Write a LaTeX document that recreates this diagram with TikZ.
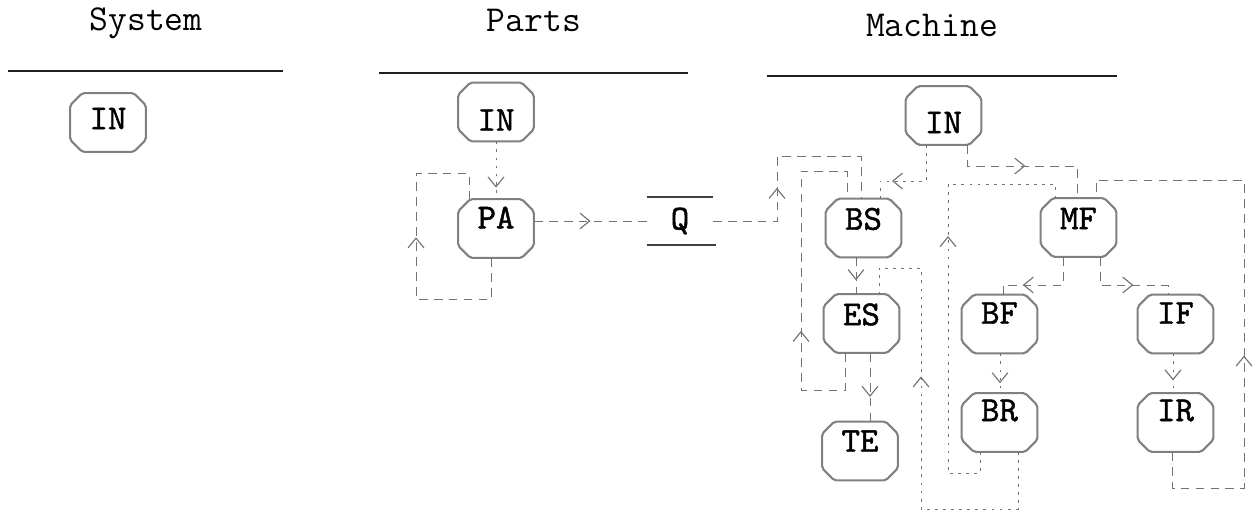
\documentclass[tikz,border=0pt]{standalone}
\usepackage{fontspec}
\newfontfamily\boxfont{lmmono10-regular.otf}[FakeBold=1.3]
\usetikzlibrary{decorations.markings, arrows.meta}

\definecolor{wire}{gray}{0.45}
\definecolor{boxedge}{gray}{0.5}
\definecolor{rule}{gray}{0.12}

\tikzset{
  octspace/.style={rectangle, inner sep=0pt, minimum width=1.5cm, minimum height=1.16cm},
  octline/.style={draw=boxedge, line width=1.2pt, rounded corners=1.2pt},
  octlabel/.style={inner sep=0pt, font=\boxfont\fontsize{20pt}{22pt}\selectfont},
  heading/.style={anchor=base, inner sep=0pt, font=\ttfamily\fontsize{20.8pt}{22pt}\selectfont},
  headrule/.style={draw=rule, line width=1.1pt},
  storebox/.style={rectangle, inner sep=0pt, minimum width=1.3cm, minimum height=0.94cm,
    font=\boxfont\fontsize{20pt}{22pt}\selectfont},
  storeline/.style={draw=rule!85, line width=1pt},
  flow/.style={draw=wire, line width=0.55pt, dash pattern=on 5pt off 3.5pt},
  dotflow/.style={draw=wire, line width=0.55pt, dash pattern=on 1.6pt off 3pt},
  chev/.style={color=wire, line width=0.65pt, postaction={decorate},
    decoration={markings, mark=at position #1 with {\arrow{Straight Barb[length=5.5pt,width=9pt]}}}},
}

% octagonal process box: name, x, y, label, label offset (down, in picture units)
\newcommand\octnode[5]{%
  \node[octspace] (#1) at (#2,#3) {};
  \draw[octline] ([xshift=0.24cm]#1.north west) -- ([xshift=-0.24cm]#1.north east)
    -- ([yshift=-0.24cm]#1.north east) -- ([yshift=0.24cm]#1.south east)
    -- ([xshift=-0.24cm]#1.south east) -- ([xshift=0.24cm]#1.south west)
    -- ([yshift=0.24cm]#1.south west) -- ([yshift=-0.24cm]#1.north west) -- cycle;
  \node[octlabel] (#1-label) at ([yshift={-0.02cm*(#5)}]#1.center) {#4};
}

\begin{document}
\begin{tikzpicture}[x=0.02cm, y=-0.02cm]
\useasboundingbox (0,0) rectangle (1253,511);

% column headings
\node[heading] (tSystem) at (146,30) {System};
\node[heading] (tParts) at (534,31) {Parts};
\node[heading] (tMachine) at (932,36) {Machine};
\draw[headrule] (8,71) -- (283,71);
\draw[headrule] (379,73) -- (688,73);
\draw[headrule] (767,76) -- (1117,76);

% boxes
\octnode{sysIN}{108}{122.5}{IN}{-4}
\octnode{pIN}{496}{112}{IN}{8}
\octnode{PA}{496}{228.5}{PA}{-11}
\octnode{mIN}{943.5}{115.5}{IN}{7}
\octnode{BS}{863.5}{228}{BS}{-9}
\octnode{ES}{861.5}{323.5}{ES}{-9}
\octnode{TE}{860}{451}{TE}{-10}
\octnode{MF}{1078.5}{227.5}{MF}{-9}
\octnode{BF}{999.5}{324}{BF}{-11}
\octnode{BR}{999.5}{422.5}{BR}{-12}
\octnode{IF}{1175.5}{324}{IF}{-11}
\octnode{IR}{1175.5}{422.5}{IR}{-12}

% queue between parts and machine
\node[storebox] (Q) at (680,221) {Q};
\draw[storeline] (Q.north west) -- (Q.north east);
\draw[storeline] (Q.south west) -- ([xshift=0.06cm]Q.south east);

% ---- parts ----
\draw[dotflow] (pIN.south) -- (PA.north);
\path[chev=0.8] (pIN.south) -- (PA.north);

\coordinate (pa1) at (491,299);
\coordinate (pa2) at (416,299);
\coordinate (pa3) at (416,173);
\coordinate (pa4) at (469,173);
\draw[flow] (PA.south -| pa1) -- (pa1) -- (pa2) -- (pa3) -- (pa4) -- (pa4 |- PA.north);
\path[chev=0.49] (pa2) -- (pa3);

\draw[flow] (PA.east |- Q.west) -- (Q.west);
\path[chev=0.5] (PA.east |- Q.west) -- (Q.west);

% ---- queue to machine ----
\coordinate (q1) at (777,156);
\coordinate (q2) at (861,156);
\draw[flow] (Q.east) -- (Q.east -| q1) -- (q1) -- (q2) -- (q2 |- BS.north);
\path[chev=0.51] (Q.east -| q1) -- (q1);

% ---- machine ----
\coordinate (i1) at (926,181);
\coordinate (i2) at (880,181);
\draw[dotflow] (mIN.south -| i1) -- (i1) -- (i2) -- (i2 |- BS.north);
\path[chev=0.74] (i1) -- (i2);

\coordinate (e1) at (845,390);
\coordinate (e2) at (801,390);
\coordinate (e3) at (801,171);
\coordinate (e4) at (847,171);
\draw[flow] (ES.south -| e1) -- (e1) -- (e2) -- (e3) -- (e4) -- (e4 |- BS.north);
\path[chev=0.27] (e2) -- (e3);

\coordinate (bx) at (856,275);
\draw[flow] (BS.south -| bx) -- (ES.north -| bx);
\path[chev=0.62] (BS.south -| bx) -- (ES.north -| bx);

\coordinate (tx) at (870,390);
\draw[flow] (ES.south -| tx) -- (TE.north -| tx);
\path[chev=0.64] (ES.south -| tx) -- (TE.north -| tx);

\coordinate (r1) at (1018,509);
\coordinate (r2) at (921,509);
\coordinate (r3) at (921,268);
\coordinate (r4) at (879,268);
\draw[dotflow] (BR.south -| r1) -- (r1) -- (r2) -- (r3) -- (r4) -- (r4 |- ES.north);
\path[chev=0.55] (r2) -- (r3);

\coordinate (m1) at (980,473);
\coordinate (m2) at (948,473);
\coordinate (m3) at (948,184);
\coordinate (m4) at (1055,184);
\draw[dotflow] (BR.south -| m1) -- (m1) -- (m2) -- (m3) -- (m4) -- (m4 |- MF.north);
\path[chev=0.82] (m2) -- (m3);

\coordinate (n1) at (967,166);
\coordinate (n2) at (1077,166);
\draw[flow] (mIN.south -| n1) -- (n1) -- (n2) -- (n2 |- MF.north);
\path[chev=0.53] (n1) -- (n2);

\coordinate (k1) at (1172,488);
\coordinate (k2) at (1244,488);
\coordinate (k3) at (1244,180);
\coordinate (k4) at (1096,180);
\draw[flow] (IR.south -| k1) -- (k1) -- (k2) -- (k3) -- (k4) -- (k4 |- MF.north);
\path[chev=0.43] (k2) -- (k3);

\coordinate (f1) at (1063,285);
\coordinate (f2) at (1003,285);
\draw[flow] (MF.south -| f1) -- (f1) -- (f2) -- (f2 |- BF.north);
\path[chev=0.67] (f1) -- (f2);

\coordinate (g1) at (1100,285);
\coordinate (g2) at (1168,285);
\draw[flow] (MF.south -| g1) -- (g1) -- (g2) -- (g2 |- IF.north);
\path[chev=0.49] (g1) -- (g2);

\coordinate (h1) at (1000,370);
\draw[dotflow] (BF.south -| h1) -- (BR.north -| h1);
\path[chev=0.75] (BF.south -| h1) -- (BR.north -| h1);

\coordinate (h2) at (1173,370);
\draw[dotflow] (IF.south -| h2) -- (IR.north -| h2);
\path[chev=0.68] (IF.south -| h2) -- (IR.north -| h2);
\end{tikzpicture}
\end{document}
